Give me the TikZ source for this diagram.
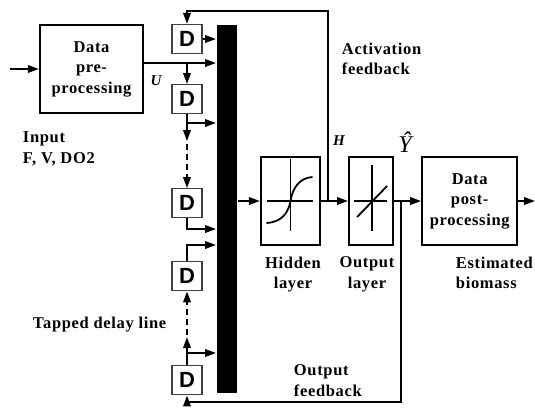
\documentclass[tikz,border=0pt]{standalone}
\usepackage{fontspec}
\setmainfont{Liberation Serif}[LetterSpace=4.0]
\newfontfamily\dfont{Liberation Sans}
\usetikzlibrary{arrows.meta,positioning}

\begin{document}
\begin{tikzpicture}[
  x=1pt, y=-1pt,
  >={Triangle[length=11pt,width=7.5pt]},
  line width=1.9pt,
  block/.style={draw, line width=2.1pt, minimum height=88pt, align=center, inner sep=0pt, font=\fontsize{16.5}{20.5}\selectfont\bfseries},
  delay/.style={draw=black!75, line width=1.1pt, fill=white, minimum width=30pt, minimum height=29pt, inner sep=0pt, font=\dfont\fontsize{22}{22}\selectfont\bfseries},
  lbl/.style={font=\fontsize{16.5}{20.5}\selectfont\bfseries, inner sep=0pt, align=center},
  sym/.style={line width=1.8pt}
]
\useasboundingbox (0,0) rectangle (535,407);

\node[block, minimum width=103pt] (pre) at (91.5,69) {Data\\pre-\\processing};
\node[delay] (d1) at (187,39) {D};
\node[delay, below=30pt of d1] (d2) {D};
\node[delay, below=74pt of d2] (d3) {D};
\node[delay, below=43pt of d3] (d4) {D};
\node[delay, below=74pt of d4] (d5) {D};
\node[fill, minimum width=20pt, minimum height=368pt, inner sep=0pt] (bar) at (227,209) {};
\node[block, minimum width=59pt] (hid) at (290.5,201) {};
\node[block, minimum width=44pt, right=27pt of hid] (outl) {};
\node[block, minimum width=95pt, right=27pt of outl] (post) {Data\\post-\\processing};

\begin{scope}[shift={(hid.center)}, sym]
\draw (0,-42) -- (0,30);
\draw (-24,0) -- (22,0);
\draw (-24,22) .. controls (-8,21) and (-2,11) .. (0,0) .. controls (2,-12) and (8,-23) .. (22,-24);
\end{scope}
\begin{scope}[shift={(outl.center)}, sym]
\draw (1,-36) -- (1,30);
\draw (-17,0) -- (16,0);
\draw (-14,16) -- (16,-15);
\end{scope}

\coordinate (in) at (10,69);
\coordinate (u) at (187,63);
\coordinate (t2) at (187,123);
\coordinate (t3) at (187,229);
\coordinate (t4) at (187,245);
\coordinate (t5) at (187,353);
\coordinate (g1) at (187,141);
\coordinate (g2) at (187,144);
\coordinate (g3) at (187,337);
\coordinate (g4) at (187,335);
\coordinate (est) at (535,201);
\coordinate (hfb) at (328,201);
\coordinate (atop) at (328,11);
\coordinate (yfb) at (401,201);
\coordinate (obot) at (401,402);

\draw[->] (in) -- (pre);
\draw[->] (pre.east |- u) -- (bar.west |- u);
\draw[->] (u) -- (d2);
\draw[->] (d1) -- (bar.west |- d1);
\draw[->] (d2.south) |- (bar.west |- t2);
\draw[->] (d2.south) -- (g1);
\draw[->, dash pattern=on 6pt off 4pt] (g2) -- (d3.north);
\draw[->] (d3.south) |- (bar.west |- t3);
\draw[->] (d4.north) |- (bar.west |- t4);
\draw[->] (d5.north) |- (bar.west |- t5);
\draw[->] (d5.north) -- (g3);
\draw[->, dash pattern=on 6pt off 4pt] (g4) -- (d4.south);
\draw[->] (bar.east |- hid) -- (hid);
\draw[->] (hid) -- (outl);
\draw[->] (outl) -- (post);
\draw[->] (post) -- (est);
\draw[->] (hfb) -- (atop) -| (d1);
\draw[->] (yfb) -- (obot) -| (d5);

\node[lbl, align=left, anchor=north west] (inp) at (22,131) {Input\\F, V, DO2};
\node[lbl, align=left, anchor=north west] (actfb) at (341,42) {Activation\\feedback};
\node[lbl, align=left, anchor=north west] (outfb) at (293,364) {Output\\feedback};
\node[lbl, anchor=base west] (tdl) at (32,328) {Tapped delay line};
\node[lbl, anchor=north] (hidlbl) at (293,256) {Hidden\\layer};
\node[lbl, anchor=north] (outlbl) at (367,256) {Output\\layer};
\node[lbl, align=left, anchor=north west] (estlbl) at (455,256) {Estimated\\biomass};
\node[font=\fontsize{15}{15}\selectfont\bfseries\itshape] (ulbl) at (156,81) {U};
\node[font=\fontsize{15}{15}\selectfont\bfseries\itshape] (hlbl) at (339,141) {H};
\node[font=\fontsize{24}{24}\selectfont\itshape] (ylbl) at (405,142) {Ŷ};
\end{tikzpicture}
\end{document}
